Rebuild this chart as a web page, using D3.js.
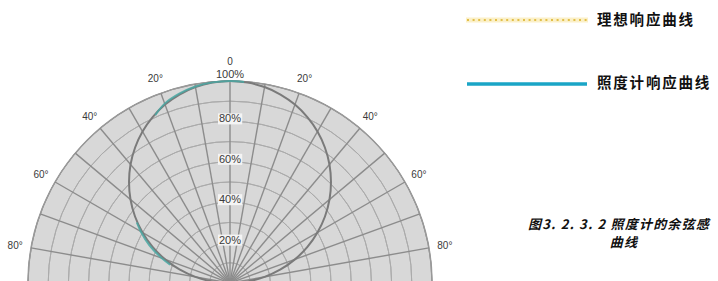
<!DOCTYPE html>
<html><head><meta charset="utf-8">
<script src="https://cdn.jsdelivr.net/npm/d3@7"></script>
<style>
html,body{margin:0;padding:0;background:#fff;}
svg{display:block;}
</style></head>
<body>
<svg id="chart" width="718" height="281"></svg>
<script>
// ---- data ----
const gridAngles = [-90,-80,-70,-60,-50,-40,-30,-20,-10,0,10,20,30,40,50,60,70,80,90];
const ringLevels = [10,20,30,40,50,60,70,80,90,100];
const angleTickLabels = [-80,-60,-40,-20,20,40,60,80];
const radiusTickLabels = [20,40,60,80,100];
const curveAngles = [-90,-85,-80,-75,-70,-65,-60,-55,-50,-45,-40,-35,-30,-25,-20,-15,-10,-5,0,5,10,15,20,25,30,35,40,45,50,55,60,65,70,75,80,85,90];
const cosineCurve = [0,8.7,17.4,25.9,34.2,42.3,50,57.4,64.3,70.7,76.6,81.9,86.6,90.6,94,96.6,98.5,99.6,100,99.6,98.5,96.6,94,90.6,86.6,81.9,76.6,70.7,64.3,57.4,50,42.3,34.2,25.9,17.4,8.7,0];
const meterAngles = [-73,-70,-65,-60,-57,null,-24,-20,-15,-10,-5,0,4];
const meterValues = [31,36,44,51,55,null,91,94.5,97,98.8,99.7,100,99.8];
const legendLabels = ["理想响应曲线","照度计响应曲线"];
const captionLines = ["图3. 2. 3. 2 照度计的余弦感","曲线"];

// ---- layout ----
const svg = d3.select("#chart");
const cx = 230, cy = 283, R = 202;
const r = d3.scaleLinear().domain([0,100]).range([0,R]);
const a = d3.scaleLinear().domain([-90,90]).range([-Math.PI/2, Math.PI/2]);
const px = (deg, v) => cx + r(v)*Math.sin(a(deg));
const py = (deg, v) => cy - r(v)*Math.cos(a(deg));

const g = svg.append("g");

// background semicircle
const arc = d3.arc().innerRadius(0).outerRadius(R).startAngle(-Math.PI/2).endAngle(Math.PI/2);
g.append("path").attr("d", arc()).attr("transform", `translate(${cx},${cy})`)
  .attr("fill", "#d8d8d8").attr("stroke", "#9a9a9a").attr("stroke-width", 1.5);

// concentric rings
ringLevels.forEach(lv => {
  g.append("path")
    .attr("d", d3.arc().innerRadius(r(lv)).outerRadius(r(lv)).startAngle(-Math.PI/2).endAngle(Math.PI/2)())
    .attr("transform", `translate(${cx},${cy})`)
    .attr("fill", "none").attr("stroke", lv === 100 ? "#999" : "#ababab").attr("stroke-width", 1);
});

// radial lines
gridAngles.forEach(d => {
  g.append("line")
    .attr("x1", cx).attr("y1", cy)
    .attr("x2", px(d, 100)).attr("y2", py(d, 100))
    .attr("stroke", "#8c8c8c").attr("stroke-width", 1.4);
});

// cosine curve (grey)
const lineGen = d3.line()
  .defined((d,i) => d[0] !== null)
  .x(d => px(d[0], d[1])).y(d => py(d[0], d[1]))
  .curve(d3.curveCatmullRom);
g.append("path")
  .attr("d", lineGen(curveAngles.map((d,i) => [d, cosineCurve[i]])))
  .attr("fill", "none").attr("stroke", "#7a7a7a").attr("stroke-width", 2);

// meter response (teal segments)
g.append("path")
  .attr("d", lineGen(meterAngles.map((d,i) => [d, meterValues[i]])))
  .attr("fill", "none").attr("stroke", "#4aa7a2").attr("stroke-width", 2).attr("opacity", 0.85);

// radius labels
radiusTickLabels.forEach(v => {
  const t = g.append("text")
    .attr("x", cx).attr("y", v === 100 ? cy - r(v) - 3 : cy - r(v) + 1)
    .attr("text-anchor", "middle")
    .attr("font-family", "Liberation Sans, Arial, sans-serif")
    .attr("font-size", 11).attr("fill", "#3a3a3a")
    .text(v + "%");
  if (v !== 100) {
    const bb = t.node().getBBox();
    g.insert("rect", () => t.node())
      .attr("x", bb.x - 1).attr("y", bb.y + 1).attr("width", bb.width + 2).attr("height", bb.height - 1)
      .attr("fill", "#f4f4f4");
  }
});
g.append("text").attr("x", cx).attr("y", 65).attr("text-anchor", "middle")
  .attr("font-family", "Liberation Sans, Arial, sans-serif").attr("font-size", 10).attr("fill", "#3a3a3a").text("0");

// angle labels
angleTickLabels.forEach(d => {
  const lr = 108;
  g.append("text")
    .attr("x", px(d, lr)).attr("y", py(d, lr) + 4)
    .attr("text-anchor", "middle")
    .attr("font-family", "Liberation Sans, Arial, sans-serif")
    .attr("font-size", 10).attr("fill", "#3a3a3a")
    .text(Math.abs(d) + "°");
});

// legend
const lg = svg.append("g");
lg.append("line").attr("x1", 466).attr("x2", 588).attr("y1", 20).attr("y2", 20)
  .attr("stroke", "#fbf0c8").attr("stroke-width", 5);
lg.append("line").attr("x1", 467).attr("x2", 587).attr("y1", 20).attr("y2", 20)
  .attr("stroke", "#e2bf4a").attr("stroke-width", 2).attr("stroke-dasharray", "2,3.6");
lg.append("line").attr("x1", 467).attr("x2", 587).attr("y1", 84).attr("y2", 84)
  .attr("stroke", "#1aa5c6").attr("stroke-width", 3.5);
[20, 83].forEach((y, i) => {
  lg.append("text").attr("x", 597).attr("y", y + 5)
    .attr("font-family", "Noto Sans CJK SC, sans-serif").attr("font-weight", "bold")
    .attr("font-size", 14.5).attr("letter-spacing", 1.8).attr("fill", "#111").text(legendLabels[i]);
});

// caption
svg.append("text").attr("x", 528).attr("y", 229)
  .attr("font-family", "Noto Sans CJK SC, sans-serif").attr("font-weight", "bold").attr("font-style", "italic")
  .attr("font-size", 13).attr("letter-spacing", 1.2).attr("fill", "#111").text(captionLines[0]);
svg.append("text").attr("x", 624).attr("y", 247).attr("text-anchor", "middle")
  .attr("font-family", "Noto Sans CJK SC, sans-serif").attr("font-weight", "bold").attr("font-style", "italic")
  .attr("font-size", 13).attr("letter-spacing", 1.2).attr("fill", "#111").text(captionLines[1]);
</script>
</body></html>
